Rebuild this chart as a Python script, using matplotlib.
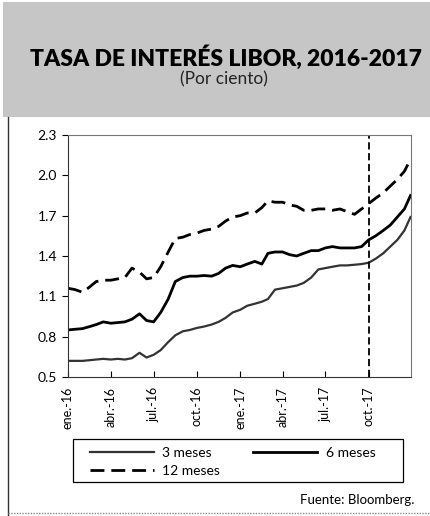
import numpy as np
import pandas as pd
import matplotlib
matplotlib.use("Agg")
import matplotlib.pyplot as plt
from matplotlib.patches import Rectangle
from matplotlib.lines import Line2D


# half-month observations, jan-2016 .. dec-2017
fechas = pd.to_datetime(
    [f"{y}-{m:02d}-{d:02d}" for y in (2016, 2017) for m in range(1, 13) for d in (1, 16)]
    + ["2017-12-29"])

libor_3m = [0.62, 0.62, 0.62, 0.625, 0.63, 0.635, 0.63, 0.635, 0.63, 0.64,
            0.68, 0.645, 0.665, 0.70, 0.76, 0.81, 0.84, 0.85, 0.865, 0.875,
            0.89, 0.91, 0.94, 0.98, 1.00, 1.03, 1.045, 1.06, 1.08, 1.15,
            1.16, 1.17, 1.18, 1.20, 1.24, 1.30, 1.31, 1.32, 1.33, 1.33,
            1.335, 1.34, 1.35, 1.38, 1.42, 1.47, 1.52, 1.59, 1.69]

libor_6m = [0.85, 0.855, 0.86, 0.875, 0.89, 0.91, 0.90, 0.905, 0.91, 0.93,
            0.97, 0.92, 0.91, 0.98, 1.08, 1.21, 1.24, 1.25, 1.25, 1.255,
            1.25, 1.27, 1.31, 1.33, 1.32, 1.34, 1.36, 1.34, 1.42, 1.43,
            1.43, 1.41, 1.40, 1.42, 1.44, 1.44, 1.46, 1.47, 1.46, 1.46,
            1.46, 1.47, 1.52, 1.55, 1.59, 1.63, 1.69, 1.75, 1.85]

libor_12m = [1.16, 1.15, 1.13, 1.17, 1.21, 1.22, 1.22, 1.23, 1.24, 1.31,
             1.28, 1.23, 1.24, 1.32, 1.43, 1.53, 1.54, 1.56, 1.57, 1.59,
             1.60, 1.62, 1.66, 1.69, 1.70, 1.72, 1.72, 1.76, 1.81, 1.80,
             1.80, 1.78, 1.77, 1.74, 1.74, 1.75, 1.75, 1.74, 1.75, 1.73,
             1.71, 1.75, 1.79, 1.83, 1.87, 1.92, 1.97, 2.03, 2.12]

tick_fechas = pd.to_datetime(["2016-01-01", "2016-04-01", "2016-07-01", "2016-10-01",
                              "2017-01-01", "2017-04-01", "2017-07-01", "2017-10-01"])
tick_labels = ["ene.-16", "abr.-16", "jul.-16", "oct.-16",
               "ene.-17", "abr.-17", "jul.-17", "oct.-17"]
y_ticks = [0.5, 0.8, 1.1, 1.4, 1.7, 2.0, 2.3]
corte = pd.Timestamp("2017-10-01")


plt.rcParams['font.family'] = ['Lato', 'DejaVu Sans']

W, H = 431, 516
fig = plt.figure(figsize=(W / 100, H / 100), dpi=100)

# header band
fig.patches.append(Rectangle((3 / W, 1 - 117 / H), 1 - 3 / W, 115 / H,
                             transform=fig.transFigure, facecolor='#c6c6c6',
                             edgecolor='none', zorder=0))
fig.text(226 / W, 1 - 58 / H, "TASA DE INTERÉS LIBOR, 2016-2017", ha='center', va='center',
         fontsize=16.5, fontweight='heavy', color='black')
fig.text(224 / W, 1 - 79 / H, "(Por ciento)", ha='center', va='center',
         fontsize=12.5, color='#222222')

# frame lines
fig.lines.append(Line2D([8 / W, 8 / W], [0, 1 - 117 / H], transform=fig.transFigure,
                        color='#333333', lw=1.0))
fig.lines.append(Line2D([8 / W, 1], [3 / H, 3 / H], transform=fig.transFigure,
                        color='#888888', lw=1.0, linestyle=(0, (1, 1))))

ax = fig.add_axes([68 / W, 1 - 377 / H, 343 / W, 242 / H])

ax.plot(fechas, libor_3m, color='#333333', lw=1.6, label='3 meses')
ax.plot(fechas, libor_6m, color='black', lw=2.0, label='6 meses')
ax.plot(fechas, libor_12m, color='black', lw=2.0, linestyle=(0, (5, 2.5)), label='12 meses')
ax.axvline(corte, color='black', lw=1.3, linestyle=(0, (4, 2)))

ax.set_ylim(0.5, 2.3)
ax.set_yticks(y_ticks)
ax.set_yticklabels([f"{v:.1f}" for v in y_ticks])
ax.set_xlim(pd.Timestamp("2016-01-01"), pd.Timestamp("2017-12-30"))
ax.set_xticks(tick_fechas)
ax.set_xticklabels(tick_labels, rotation=90)

ax.tick_params(axis='y', direction='out', length=4, labelsize=10, pad=4)
ax.tick_params(axis='x', direction='in', length=4, labelsize=9, pad=7)
for side in ['left', 'bottom']:
    ax.spines[side].set_color('#333333')
for side in ['top', 'right']:
    ax.spines[side].set_color('#777777')

# legend: box drawn separately, entries placed inside
fig.patches.append(Rectangle((73 / W, 1 - 482 / H), 330 / W, 43 / H,
                             transform=fig.transFigure, facecolor='none',
                             edgecolor='black', lw=0.9))
h, l = ax.get_legend_handles_labels()
order = [0, 2, 1]
leg = fig.legend([h[i] for i in order], [l[i] for i in order], ncol=2,
                 loc='upper left', bbox_to_anchor=(90 / W, 1 - 447 / H),
                 frameon=False, fontsize=10, borderpad=0, borderaxespad=0,
                 handlelength=4.6, handletextpad=0.6, columnspacing=2.4,
                 labelspacing=0.45)

fig.text(414 / W, 1 - 500 / H, "Fuente: Bloomberg.", ha='right', va='center', fontsize=9.5)

fig.savefig("out.png", dpi=100)
